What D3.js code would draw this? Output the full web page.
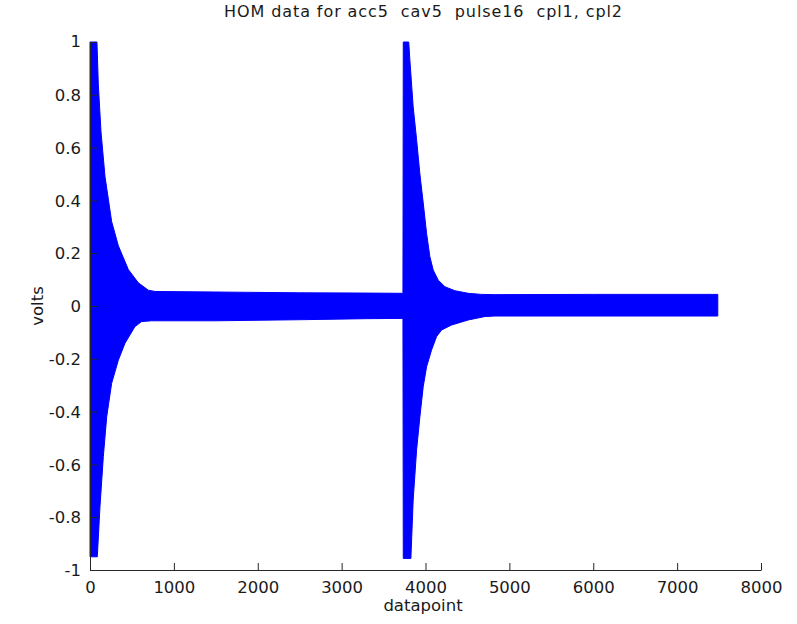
<!DOCTYPE html>
<html>
<head>
<meta charset="utf-8">
<script src="https://cdn.jsdelivr.net/npm/d3@7"></script>
<style>
  html, body { margin: 0; padding: 0; background: #fff; }
  svg text { font-family: "DejaVu Sans", Arial, "Liberation Sans", sans-serif; fill: #1a1a1a; }
</style>
</head>
<body>
<svg id="chart" width="797" height="624"></svg>
<script>
// ---- data ----
const titleText = "HOM data for acc5  cav5  pulse16  cpl1, cpl2";
const xLabel = "datapoint";
const yLabel = "volts";
const xTicks = [0, 1000, 2000, 3000, 4000, 5000, 6000, 7000, 8000];
const yTicks = [-1, -0.8, -0.6, -0.4, -0.2, 0, 0.2, 0.4, 0.6, 0.8, 1];

// envelope of the dense oscillating signal
const upperPoints = [0, 83, 99, 131, 179, 258, 338, 457, 576, 695, 775, 1500, 2500, 3300, 3731,
                     3735, 3800, 3814, 3853, 3894, 3933, 3973, 4013, 4052, 4092, 4152, 4231, 4350, 4509, 4668, 4827, 6000, 7485];
const upperVolts  = [1.0, 1.0, 0.84, 0.66, 0.49, 0.32, 0.228, 0.138, 0.088, 0.06, 0.055, 0.053, 0.05, 0.049, 0.048,
                     1.0, 1.0, 0.93, 0.755, 0.63, 0.50, 0.39, 0.275, 0.187, 0.136, 0.098, 0.073, 0.058, 0.048, 0.044, 0.043, 0.044, 0.044];
const lowerPoints = [0, 87, 119, 159, 199, 258, 338, 417, 536, 616, 735, 1500, 2500, 3300, 3731,
                     3735, 3826, 3853, 3894, 3933, 3973, 4013, 4072, 4132, 4191, 4311, 4509, 4708, 4827, 7485];
const lowerVolts  = [-0.95, -0.95, -0.76, -0.57, -0.42, -0.293, -0.205, -0.141, -0.078, -0.059, -0.056, -0.056, -0.052, -0.048, -0.047,
                     -0.956, -0.956, -0.735, -0.545, -0.42, -0.305, -0.23, -0.167, -0.116, -0.091, -0.072, -0.053, -0.04, -0.038, -0.038];

// ---- drawing ----
const svg = d3.select("#chart");
const plotLeft = 90, plotRight = 761, plotTop = 42, plotBottom = 570;
const x = d3.scaleLinear().domain([0, 8000]).range([plotLeft, plotRight]);
const y = d3.scaleLinear().domain([-1, 1]).range([plotBottom, plotTop]);

// Closed polygon: upper envelope forward, lower envelope backward
const upperEnv = upperPoints.map((d, i) => [d, upperVolts[i]]);
const lowerEnv = lowerPoints.map((d, i) => [d, lowerVolts[i]]).reverse();
const poly = upperEnv.concat(lowerEnv);
const lineGen = d3.line().x(d => x(d[0])).y(d => y(d[1]));
svg.append("path")
  .attr("d", lineGen(poly) + "Z")
  .attr("fill", "#0000ff")
  .attr("stroke", "#0000ff")
  .attr("stroke-width", 1);

const axisColor = "#262626";
const fmt = d => String(+d.toFixed(1));

// x axis
const gx = svg.append("g").attr("transform", `translate(0,${plotBottom})`)
  .call(d3.axisBottom(x).tickValues(xTicks).tickSizeInner(-7).tickSizeOuter(0).tickFormat(fmt));
gx.select(".domain").attr("stroke", axisColor);
gx.selectAll(".tick line").attr("stroke", axisColor);
gx.selectAll(".tick text").attr("y", 11).attr("dy", "0.71em")
  .style("font-family", "'DejaVu Sans', Arial, sans-serif")
  .style("font-size", "16.5px").attr("fill", "#1a1a1a");

// y axis
const gy = svg.append("g").attr("transform", `translate(${plotLeft},0)`)
  .call(d3.axisLeft(y).tickValues(yTicks).tickSizeInner(-7).tickSizeOuter(0).tickFormat(fmt));
gy.select(".domain").attr("stroke", axisColor);
gy.selectAll(".tick line").attr("stroke", axisColor);
gy.selectAll(".tick text").attr("x", -9).attr("dy", "0.35em")
  .style("font-family", "'DejaVu Sans', Arial, sans-serif")
  .style("font-size", "16.5px").attr("fill", "#1a1a1a");
gy.selectAll(".tick").filter(d => d === 1).select("text").attr("dy", "0.25em");

// title
svg.append("text")
  .attr("x", 423).attr("y", 17)
  .attr("text-anchor", "middle")
  .style("font-size", "16px")
  .style("white-space", "pre")
  .attr("xml:space", "preserve")
  .attr("textLength", 398)
  .attr("lengthAdjust", "spacing")
  .text(titleText);

// axis labels
svg.append("text")
  .attr("x", 423).attr("y", 611)
  .attr("text-anchor", "middle")
  .style("font-size", "16.5px")
  .text(xLabel);

svg.append("text")
  .attr("transform", `translate(43,306) rotate(-90)`)
  .attr("text-anchor", "middle")
  .style("font-size", "16.5px")
  .text(yLabel);
</script>
</body>
</html>
